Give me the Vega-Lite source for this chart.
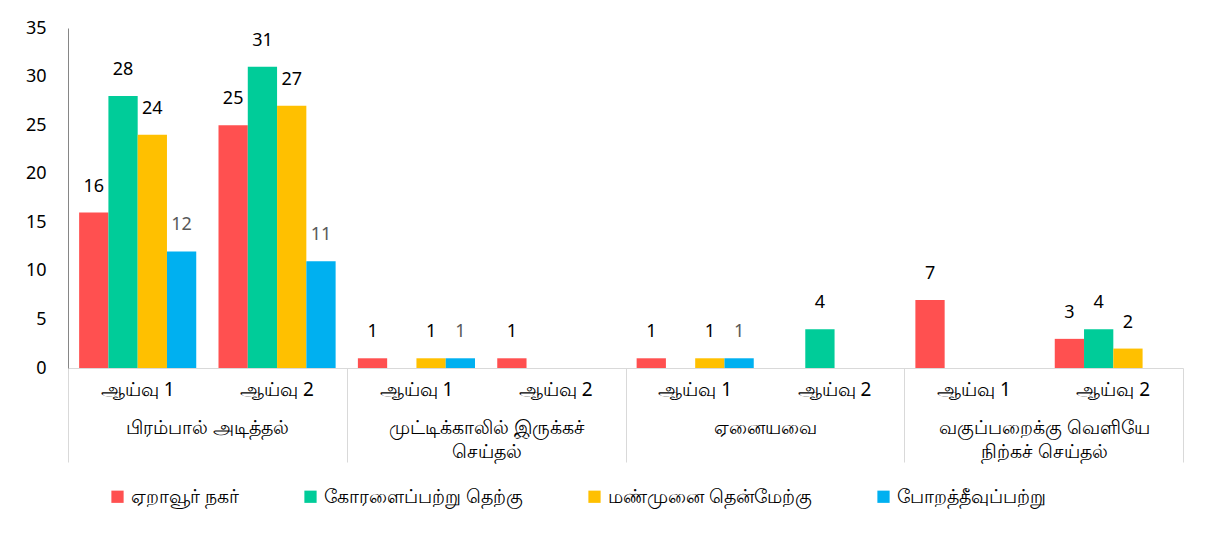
{
  "$schema": "https://vega.github.io/schema/vega-lite/v6.json",
  "width": 1115,
  "height": 340,
  "autosize": "none",
  "padding": {"left": 68, "top": 28, "right": 36, "bottom": 169},
  "background": "white",
  "config": {
    "view": {"stroke": null},
    "font": "Noto Sans",
    "axis": {"labelFont": "Noto Sans", "labelColor": "#000000", "grid": false, "title": null}
  },
  "data": {
    "values": [
      {"g": "பிரம்பால் அடித்தல்", "k": "பிரம்பால் அடித்தல்|ஆய்வு 1", "series": "ஏறாவூர் நகர்", "v": 16},
      {"g": "பிரம்பால் அடித்தல்", "k": "பிரம்பால் அடித்தல்|ஆய்வு 1", "series": "கோரளைப்பற்று தெற்கு", "v": 28},
      {"g": "பிரம்பால் அடித்தல்", "k": "பிரம்பால் அடித்தல்|ஆய்வு 1", "series": "மண்முனை தென்மேற்கு", "v": 24},
      {"g": "பிரம்பால் அடித்தல்", "k": "பிரம்பால் அடித்தல்|ஆய்வு 1", "series": "போறத்தீவுப்பற்று", "v": 12},
      {"g": "பிரம்பால் அடித்தல்", "k": "பிரம்பால் அடித்தல்|ஆய்வு 2", "series": "ஏறாவூர் நகர்", "v": 25},
      {"g": "பிரம்பால் அடித்தல்", "k": "பிரம்பால் அடித்தல்|ஆய்வு 2", "series": "கோரளைப்பற்று தெற்கு", "v": 31},
      {"g": "பிரம்பால் அடித்தல்", "k": "பிரம்பால் அடித்தல்|ஆய்வு 2", "series": "மண்முனை தென்மேற்கு", "v": 27},
      {"g": "பிரம்பால் அடித்தல்", "k": "பிரம்பால் அடித்தல்|ஆய்வு 2", "series": "போறத்தீவுப்பற்று", "v": 11},
      {"g": "முட்டிக்காலில் இருக்கச் செய்தல்", "k": "முட்டிக்காலில் இருக்கச் செய்தல்|ஆய்வு 1", "series": "ஏறாவூர் நகர்", "v": 1},
      {"g": "முட்டிக்காலில் இருக்கச் செய்தல்", "k": "முட்டிக்காலில் இருக்கச் செய்தல்|ஆய்வு 1", "series": "கோரளைப்பற்று தெற்கு", "v": 0},
      {"g": "முட்டிக்காலில் இருக்கச் செய்தல்", "k": "முட்டிக்காலில் இருக்கச் செய்தல்|ஆய்வு 1", "series": "மண்முனை தென்மேற்கு", "v": 1},
      {"g": "முட்டிக்காலில் இருக்கச் செய்தல்", "k": "முட்டிக்காலில் இருக்கச் செய்தல்|ஆய்வு 1", "series": "போறத்தீவுப்பற்று", "v": 1},
      {"g": "முட்டிக்காலில் இருக்கச் செய்தல்", "k": "முட்டிக்காலில் இருக்கச் செய்தல்|ஆய்வு 2", "series": "ஏறாவூர் நகர்", "v": 1},
      {"g": "முட்டிக்காலில் இருக்கச் செய்தல்", "k": "முட்டிக்காலில் இருக்கச் செய்தல்|ஆய்வு 2", "series": "கோரளைப்பற்று தெற்கு", "v": 0},
      {"g": "முட்டிக்காலில் இருக்கச் செய்தல்", "k": "முட்டிக்காலில் இருக்கச் செய்தல்|ஆய்வு 2", "series": "மண்முனை தென்மேற்கு", "v": 0},
      {"g": "முட்டிக்காலில் இருக்கச் செய்தல்", "k": "முட்டிக்காலில் இருக்கச் செய்தல்|ஆய்வு 2", "series": "போறத்தீவுப்பற்று", "v": 0},
      {"g": "ஏனையவை", "k": "ஏனையவை|ஆய்வு 1", "series": "ஏறாவூர் நகர்", "v": 1},
      {"g": "ஏனையவை", "k": "ஏனையவை|ஆய்வு 1", "series": "கோரளைப்பற்று தெற்கு", "v": 0},
      {"g": "ஏனையவை", "k": "ஏனையவை|ஆய்வு 1", "series": "மண்முனை தென்மேற்கு", "v": 1},
      {"g": "ஏனையவை", "k": "ஏனையவை|ஆய்வு 1", "series": "போறத்தீவுப்பற்று", "v": 1},
      {"g": "ஏனையவை", "k": "ஏனையவை|ஆய்வு 2", "series": "ஏறாவூர் நகர்", "v": 0},
      {"g": "ஏனையவை", "k": "ஏனையவை|ஆய்வு 2", "series": "கோரளைப்பற்று தெற்கு", "v": 4},
      {"g": "ஏனையவை", "k": "ஏனையவை|ஆய்வு 2", "series": "மண்முனை தென்மேற்கு", "v": 0},
      {"g": "ஏனையவை", "k": "ஏனையவை|ஆய்வு 2", "series": "போறத்தீவுப்பற்று", "v": 0},
      {"g": "வகுப்பறைக்கு வெளியே நிற்கச் செய்தல்", "k": "வகுப்பறைக்கு வெளியே நிற்கச் செய்தல்|ஆய்வு 1", "series": "ஏறாவூர் நகர்", "v": 7},
      {"g": "வகுப்பறைக்கு வெளியே நிற்கச் செய்தல்", "k": "வகுப்பறைக்கு வெளியே நிற்கச் செய்தல்|ஆய்வு 1", "series": "கோரளைப்பற்று தெற்கு", "v": 0},
      {"g": "வகுப்பறைக்கு வெளியே நிற்கச் செய்தல்", "k": "வகுப்பறைக்கு வெளியே நிற்கச் செய்தல்|ஆய்வு 1", "series": "மண்முனை தென்மேற்கு", "v": 0},
      {"g": "வகுப்பறைக்கு வெளியே நிற்கச் செய்தல்", "k": "வகுப்பறைக்கு வெளியே நிற்கச் செய்தல்|ஆய்வு 1", "series": "போறத்தீவுப்பற்று", "v": 0},
      {"g": "வகுப்பறைக்கு வெளியே நிற்கச் செய்தல்", "k": "வகுப்பறைக்கு வெளியே நிற்கச் செய்தல்|ஆய்வு 2", "series": "ஏறாவூர் நகர்", "v": 3},
      {"g": "வகுப்பறைக்கு வெளியே நிற்கச் செய்தல்", "k": "வகுப்பறைக்கு வெளியே நிற்கச் செய்தல்|ஆய்வு 2", "series": "கோரளைப்பற்று தெற்கு", "v": 4},
      {"g": "வகுப்பறைக்கு வெளியே நிற்கச் செய்தல்", "k": "வகுப்பறைக்கு வெளியே நிற்கச் செய்தல்|ஆய்வு 2", "series": "மண்முனை தென்மேற்கு", "v": 2},
      {"g": "வகுப்பறைக்கு வெளியே நிற்கச் செய்தல்", "k": "வகுப்பறைக்கு வெளியே நிற்கச் செய்தல்|ஆய்வு 2", "series": "போறத்தீவுப்பற்று", "v": 0}
    ]
  },
  "resolve": {"scale": {"x": "independent"}},
  "layer": [
    {
      "encoding": {
        "x": {
          "field": "k", "type": "nominal", "sort": null,
          "scale": {"paddingInner": 0, "paddingOuter": 0},
          "axis": {
            "labelExpr": "split(datum.value, '|')[1]",
            "labelAngle": 0, "labelFontSize": 19, "labelPadding": 12, "labelLimit": 0,
            "ticks": false, "domain": true, "domainColor": "#D9D9D9", "domainWidth": 1
          }
        },
        "xOffset": {"field": "series", "type": "nominal", "sort": null, "scale": {"paddingInner": 0, "paddingOuter": 0.38}},
        "y": {
          "field": "v", "type": "quantitative",
          "scale": {"domain": [0, 35], "nice": false},
          "axis": {"values": [0, 5, 10, 15, 20, 25, 30, 35], "ticks": false, "domainColor": "#868686", "labelFontSize": 18, "labelPadding": 22}
        }
      },
      "layer": [
        {
          "mark": {"type": "bar"},
          "encoding": {
            "color": {
              "field": "series", "type": "nominal", "sort": null,
              "scale": {"range": ["#FF5050", "#00CC99", "#FFC000", "#00B0F0"]},
              "legend": {
                "title": null, "orient": "none", "direction": "horizontal", "columns": 4,
                "legendX": 40, "legendY": 459, "labelLimit": 0,
                "symbolType": "square", "symbolSize": 150, "symbolStrokeWidth": 0,
                "labelFontSize": 19, "labelColor": "#000000", "columnPadding": 62, "labelOffset": 4
              }
            }
          }
        },
        {
          "transform": [{"filter": "datum.v > 0"}],
          "mark": {"type": "text", "baseline": "bottom", "dy": -17, "fontSize": 18},
          "encoding": {
            "text": {"field": "v", "type": "quantitative"},
            "color": {
              "condition": {"test": "datum.series === 'போறத்தீவுப்பற்று'", "value": "#595959"},
              "value": "#000000"
            }
          }
        }
      ]
    },
    {
      "mark": {"type": "point", "opacity": 0},
      "encoding": {
        "x": {
          "field": "g", "type": "nominal", "sort": null,
          "scale": {"paddingInner": 0, "paddingOuter": 0},
          "axis": {
            "orient": "bottom", "domain": false, "ticks": true, "tickBand": "extent",
            "tickSize": 94, "tickColor": "#D9D9D9", "tickWidth": 1, "labelLimit": 0,
            "labelAngle": 0, "labelFontSize": 19, "labelPadding": -44, "labelLineHeight": 24, "labelBaseline": "top",
            "labelExpr": "datum.value == 'முட்டிக்காலில் இருக்கச் செய்தல்' ? ['முட்டிக்காலில் இருக்கச்', 'செய்தல்'] : datum.value == 'வகுப்பறைக்கு வெளியே நிற்கச் செய்தல்' ? ['வகுப்பறைக்கு வெளியே', 'நிற்கச் செய்தல்'] : datum.value"
          }
        }
      }
    }
  ]
}
